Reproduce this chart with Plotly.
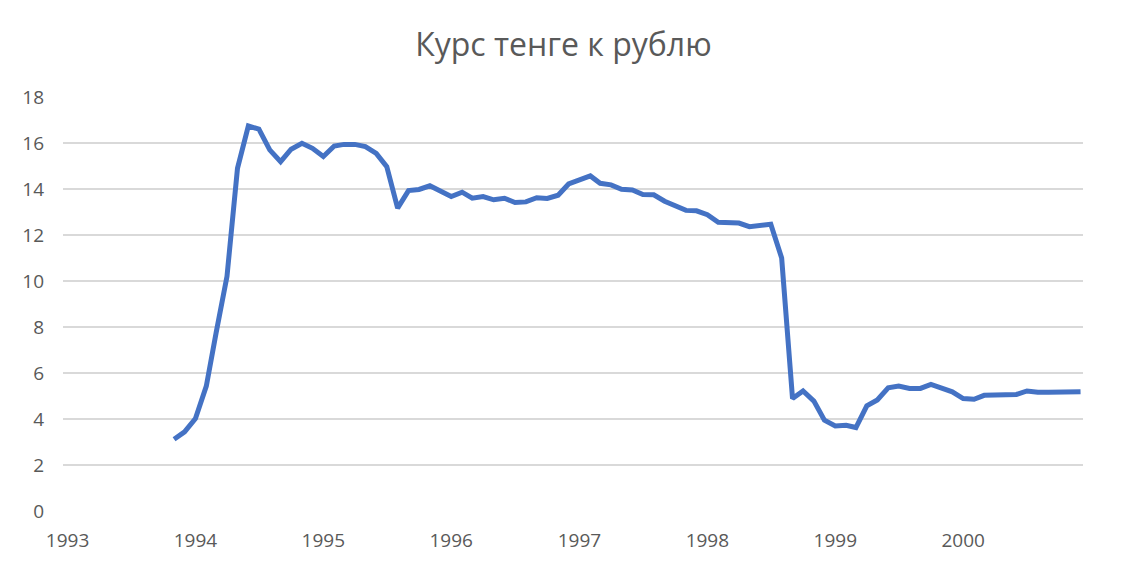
import pandas as pd
import plotly.graph_objects as go

# месяцы: ноябрь 1993 – декабрь 2000
months = pd.date_range("1993-11-01", periods=86, freq="MS")

rate = [
    3.12, 3.44, 4.02, 5.43, 7.75, 10.2, 14.9, 16.74, 16.6, 15.7,
    15.19, 15.73, 15.99, 15.77, 15.41, 15.87, 15.94, 15.94, 15.84, 15.55,
    14.97, 13.17, 13.93, 13.98, 14.14, 13.89, 13.67, 13.86, 13.6, 13.67,
    13.53, 13.6, 13.41, 13.44, 13.62, 13.59, 13.73, 14.22, 14.4, 14.57,
    14.25, 14.18, 13.99, 13.96, 13.76, 13.75, 13.47, 13.26, 13.07, 13.05,
    12.88, 12.55, 12.55, 12.52, 12.36, 12.4, 12.47, 11.0, 4.89, 5.22,
    4.78, 3.95, 3.7, 3.73, 3.63, 4.57, 4.83, 5.36, 5.43, 5.33,
    5.33, 5.5, 5.32, 5.18, 4.89, 4.86, 5.03, 5.06, 5.07, 5.07,
    5.22, 5.16, 5.16, 5.17, 5.2, 5.19,
]

year_ticks = [f"{y}-01-01" for y in range(1993, 2001)]
year_labels = [str(y) for y in range(1993, 2001)]

fig = go.Figure()
fig.add_trace(go.Scatter(x=months, y=rate, mode="lines",
                         line=dict(color="#4472C4", width=5)))

fig.update_layout(
    width=1129, height=566,
    margin=dict(l=55, r=54, t=89, b=63),
    paper_bgcolor="white", plot_bgcolor="white",
    showlegend=False,
    font=dict(family="Open Sans", color="#595959", size=19),
    title=dict(text="Курс тенге к рублю", x=0.492, xanchor="center",
               y=0.935, yanchor="middle",
               font=dict(family="Open Sans", size=32, color="#595959")),
)
fig.update_xaxes(type="date", range=["1992-12-19", "2000-12-08"],
                 tickvals=year_ticks, ticktext=year_labels,
                 showgrid=False, showline=False, zeroline=False,
                 ticklabelstandoff=16)
fig.update_yaxes(range=[0, 18], dtick=2, showgrid=True,
                 gridcolor="#D9D9D9", gridwidth=1.5,
                 zeroline=False, showline=False,
                 ticklabelstandoff=18)

fig.write_html("out.html")
